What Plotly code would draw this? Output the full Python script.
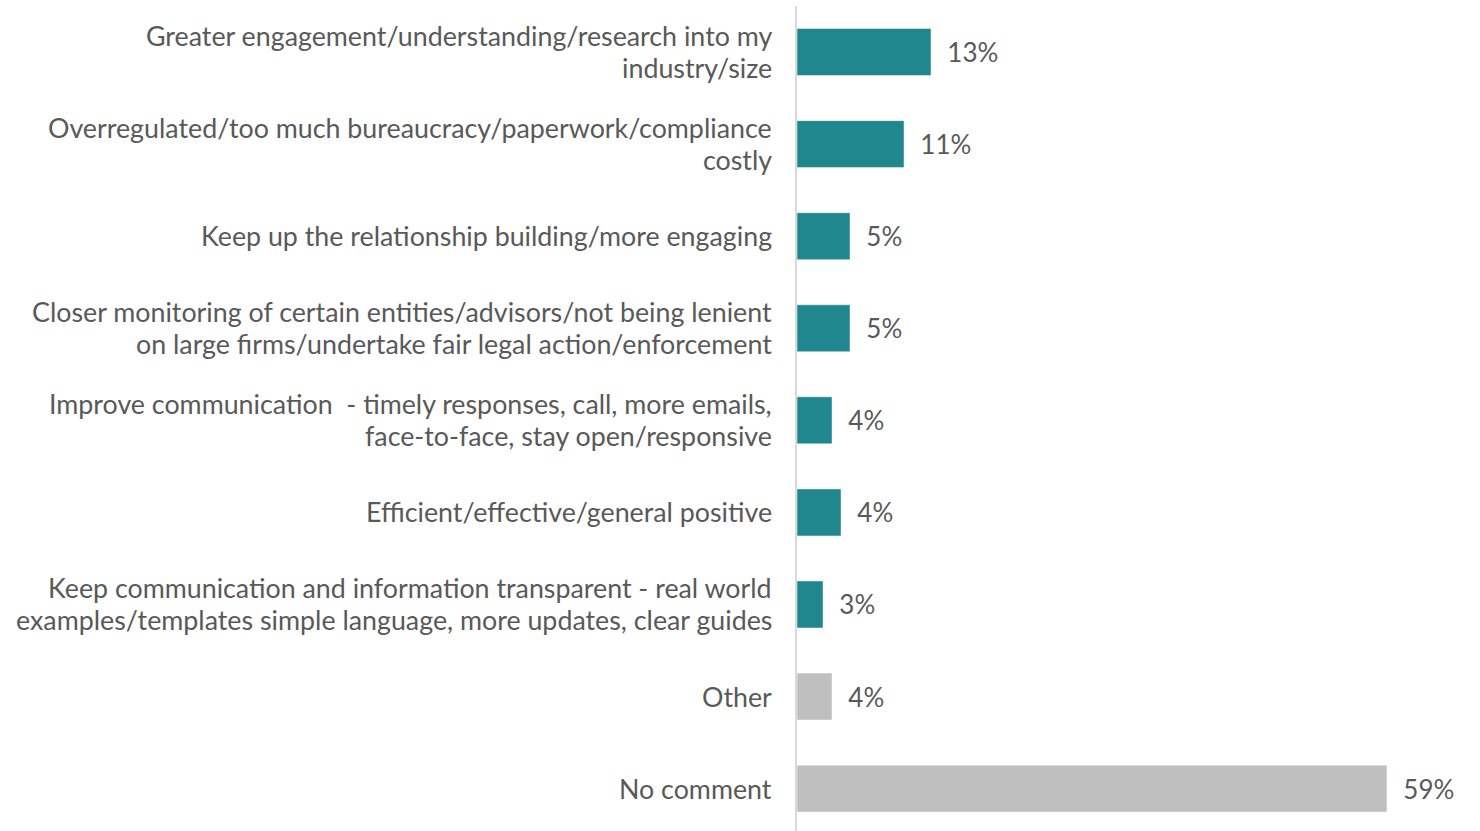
import plotly.graph_objects as go

# Response categories (top to bottom) and share of respondents (%)
categories = [
    "Greater engagement/understanding/research into my<br>industry/size",
    "Overregulated/too much bureaucracy/paperwork/compliance<br>costly",
    "Keep up the relationship building/more engaging",
    "Closer monitoring of certain entities/advisors/not being lenient<br>on large firms/undertake fair legal action/enforcement",
    "Improve communication \u00a0- timely responses, call, more emails,<br>face-to-face, stay open/responsive",
    "Efficient/effective/general positive",
    "Keep communication and information transparent - real world<br>examples/templates simple language, more updates, clear guides",
    "Other",
    "No comment",
]
values = [13.4, 10.7, 5.3, 5.3, 3.5, 4.4, 2.6, 3.5, 59.0]
is_other = [False, False, False, False, False, False, False, True, True]

TEAL = "#21878F"
GREY = "#BFBFBF"
TEXT = "#595959"
LABEL_SIZE = 26.8
LINE_GAP = 32  # px between wrapped label lines
colors = [GREY if o else TEAL for o in is_other]

fig = go.Figure(
    go.Bar(
        x=values,
        y=categories,
        orientation="h",
        marker=dict(color=colors, line=dict(color="rgba(255,255,255,0.45)", width=1)),
        texttemplate="\u00a0\u00a0%{x:.0f}%",
        textposition="outside",
        textfont=dict(family="Lato", size=26, color=TEXT),
        cliponaxis=False,
        hoverinfo="skip",
    )
)

# Category labels, right-aligned against the axis, one text line at a time
for cat in categories:
    lines = cat.split("<br>")
    n = len(lines)
    for j, line in enumerate(lines):
        fig.add_annotation(
            x=0,
            xref="paper",
            y=cat,
            yref="y",
            text=line,
            showarrow=False,
            xanchor="right",
            yanchor="middle",
            xshift=-23,
            yshift=(n - 1) / 2 * LINE_GAP - j * LINE_GAP,
            font=dict(family="Lato", size=LABEL_SIZE, color=TEXT),
        )

fig.update_layout(
    width=1480,
    height=831,
    margin=dict(l=797, r=0, t=6, b=0),
    paper_bgcolor="white",
    plot_bgcolor="white",
    bargap=0.49,
    showlegend=False,
    font=dict(family="Lato", size=26, color=TEXT),
)

fig.update_xaxes(
    range=[0, 68.3],
    showgrid=False,
    zeroline=False,
    showticklabels=False,
    showline=False,
)

fig.update_yaxes(
    type="category",
    categoryorder="array",
    categoryarray=categories,
    range=[8.46, -0.5],
    showgrid=False,
    zeroline=False,
    showline=True,
    linecolor="#D9D9D9",
    linewidth=2,
    ticks="",
    showticklabels=False,
)

fig.write_html("out.html")
